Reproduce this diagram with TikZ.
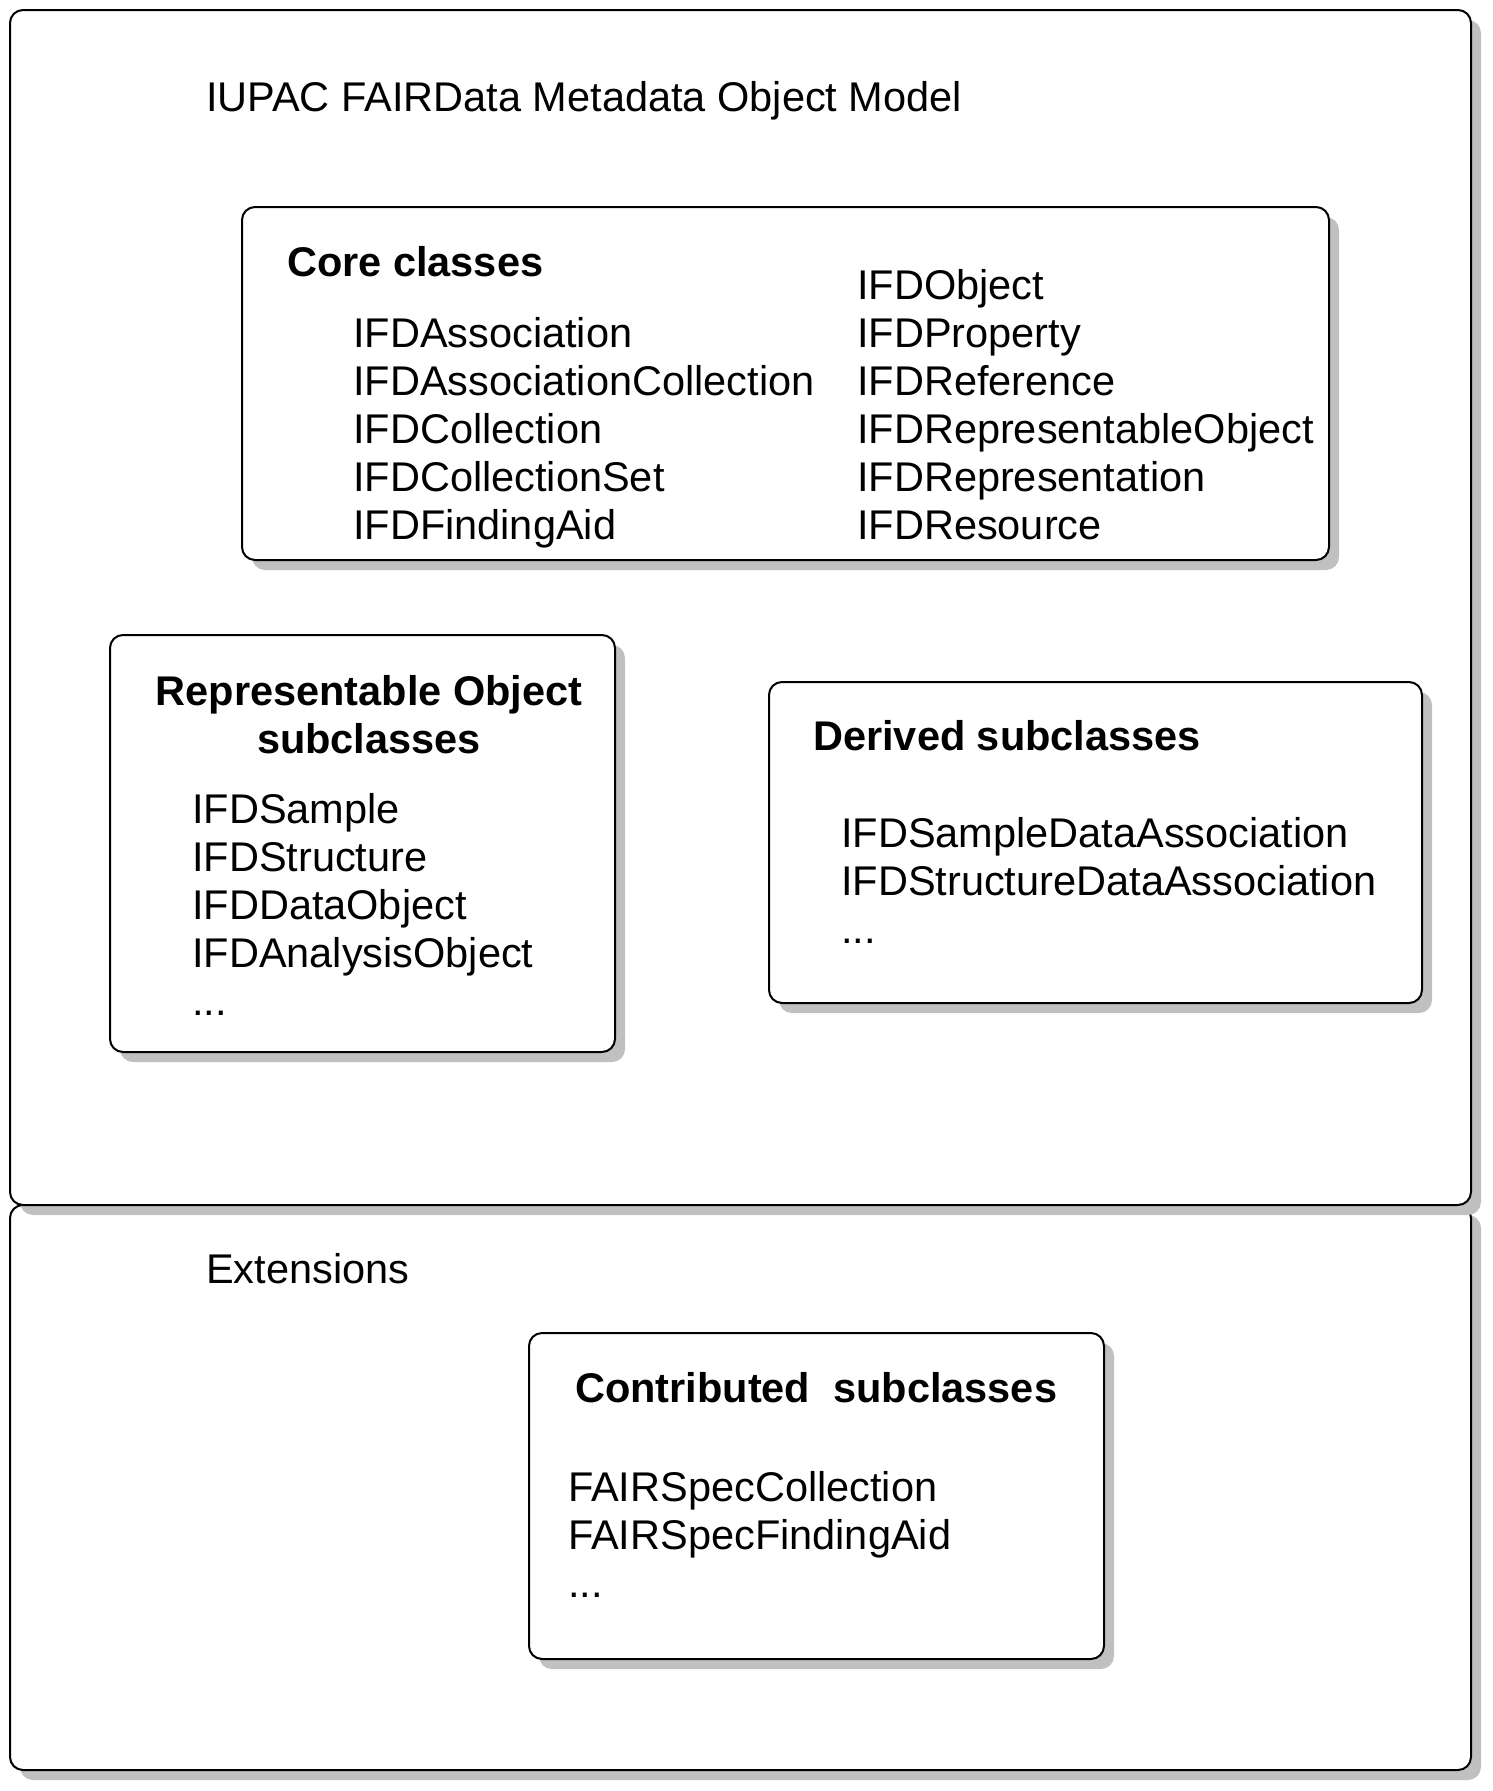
\documentclass[tikz,border=0pt]{standalone}
\usepackage{fontspec}
\setmainfont{Liberation Sans}
\usetikzlibrary{shadows}
\definecolor{shadowgray}{HTML}{C0C0C0}
\begin{document}
\begin{tikzpicture}[x=1pt,y=-1pt,
  box/.style={draw=black, line width=2pt, fill=white, rounded corners=13pt, rectangle, anchor=north west, inner sep=0pt,
    drop shadow={shadow xshift=10pt, shadow yshift=-10pt, fill=shadowgray, opacity=1}},
  txt/.style={anchor=base west, inner sep=0pt, font=\fontsize{41.5pt}{48pt}\selectfont},
  btxt/.style={txt, font=\fontsize{41.5pt}{48pt}\selectfont\bfseries}
]
\useasboundingbox (0,0) rectangle (1492,1791);
\begin{scope}[shift={(-1,-1)}]
% outer frames
\node[box, minimum width=1461pt, minimum height=565pt] (ext) at (10,1205) {};
\node[box, minimum width=1461pt, minimum height=1195pt] (model) at (10,10) {};
% core
\node[box, minimum width=1087pt, minimum height=353pt] (core) at (242,207) {};
% representable
\node[box, minimum width=505pt, minimum height=417pt] (rep) at (110,635) {};
% derived
\node[box, minimum width=653pt, minimum height=321pt] (der) at (769,682) {};
% contributed
\node[box, minimum width=575pt, minimum height=326pt] (con) at (529,1333) {};
\end{scope}
\node[txt] (title) at (206,111) {IUPAC FAIRData Metadata Object Model};
\node[txt] (exttitle) at (206,1283) {Extensions};
\begin{scope}[shift={(0,-1.5)}]
\node[btxt] (coreh) at (287,278) {Core classes};
\node[txt] (c1) at (353,349) {IFDAssociation};
\node[txt] (c2) at (353,397) {IFDAssociationCollection};
\node[txt] (c3) at (353,445) {IFDCollection};
\node[txt] (c4) at (353,493) {IFDCollectionSet};
\node[txt] (c5) at (353,541) {IFDFindingAid};
\node[txt] (d1) at (857,301) {IFDObject};
\node[txt] (d2) at (857,349) {IFDProperty};
\node[txt] (d3) at (857,397) {IFDReference};
\node[txt] (d4) at (857,445) {IFDRepresentableObject};
\node[txt] (d5) at (857,493) {IFDRepresentation};
\node[txt] (d6) at (857,541) {IFDResource};
\node[btxt, anchor=base] (reph1) at (369,707) {Representable Object};
\node[btxt, anchor=base] (reph2) at (369,755) {subclasses};
\node[txt] (r1) at (192,825) {IFDSample};
\node[txt] (r2) at (192,873) {IFDStructure};
\node[txt] (r3) at (192,921) {IFDDataObject};
\node[txt] (r4) at (192,969) {IFDAnalysisObject};
\node[txt] (r5) at (192,1017) {...};
\node[btxt] (derh) at (813,752) {Derived subclasses};
\node[txt] (e1) at (841,849) {IFDSampleDataAssociation};
\node[txt] (e2) at (841,897) {IFDStructureDataAssociation};
\node[txt] (e3) at (841,945) {...};
\node[btxt] (conh) at (575,1404) {Contributed\ \ subclasses};
\node[txt] (f1) at (568,1503) {FAIRSpecCollection};
\node[txt] (f2) at (568,1551) {FAIRSpecFindingAid};
\node[txt] (f3) at (568,1599) {...};
\end{scope}
\end{tikzpicture}
\end{document}
